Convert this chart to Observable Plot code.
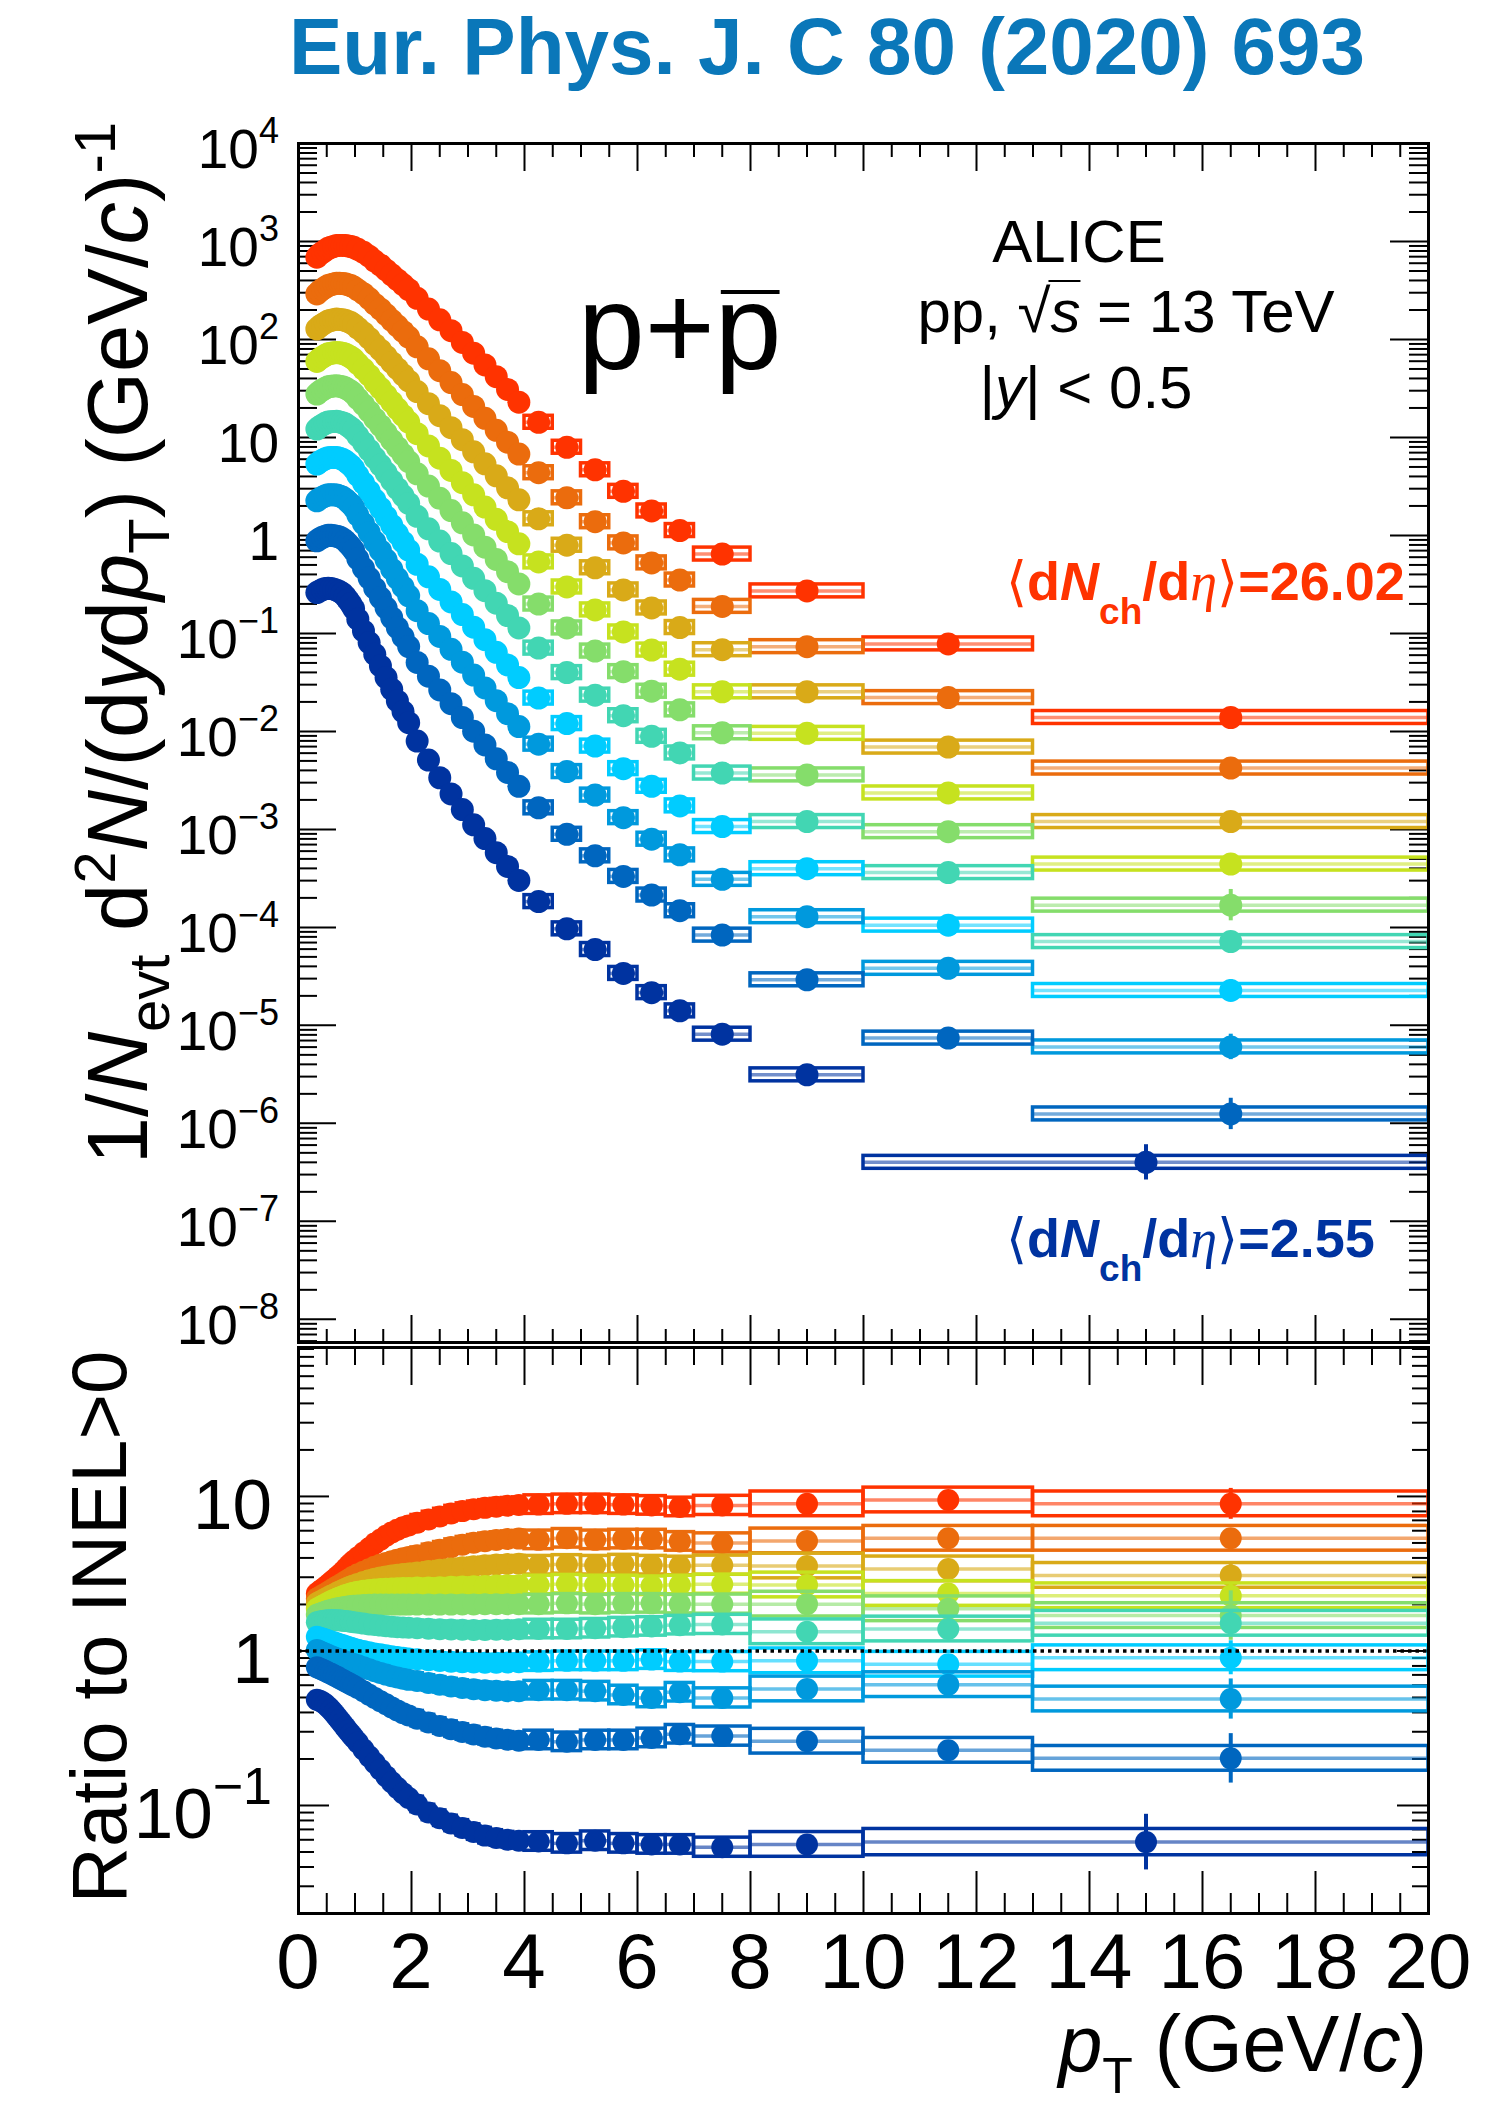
<!DOCTYPE html>
<html>
<head>
<meta charset="utf-8">
<script src="https://cdn.jsdelivr.net/npm/d3@7"></script>
<script src="https://cdn.jsdelivr.net/npm/@observablehq/plot@0.6"></script>
<style>
  html, body { margin: 0; padding: 0; background: #fff; }
  #wrap { position: relative; width: 1496px; height: 2110px; overflow: hidden; background: #fff;
          font-family: "Liberation Sans", Arial, Helvetica, sans-serif; }
  #title { position: absolute; left: 158px; width: 1338px; top: 7px; text-align: center;
           font-weight: bold; font-size: 80px; line-height: 79px; color: #0a77b9; white-space: nowrap; }
  .panel { position: absolute; left: 0; }
  .panel svg { overflow: visible; }
</style>
</head>
<body>
<div id="wrap">
  <div id="title">Eur. Phys. J. C 80 (2020) 693</div>
  <div id="top" class="panel" style="top:0px"></div>
  <div id="bot" class="panel" style="top:1340px"></div>
</div>
<script>
// ---------------- DATA ----------------
// pT bin edges (GeV/c); the lowest multiplicity class has a merged 10-20 bin
const ptEdges = [0.3,0.35,0.4,0.45,0.5,0.55,0.6,0.65,0.7,0.75,0.8,0.85,0.9,0.95,1.0,
  1.1,1.2,1.3,1.4,1.5,1.6,1.7,1.8,1.9,2.0,2.2,2.4,2.6,2.8,3.0,3.2,3.4,3.6,3.8,4.0,
  4.5,5.0,5.5,6.0,6.5,7.0,8.0,10.0,13.0,20.0];
const ptEdgesLowest = [0.3,0.35,0.4,0.45,0.5,0.55,0.6,0.65,0.7,0.75,0.8,0.85,0.9,0.95,1.0,
  1.1,1.2,1.3,1.4,1.5,1.6,1.7,1.8,1.9,2.0,2.2,2.4,2.6,2.8,3.0,3.2,3.4,3.6,3.8,4.0,
  4.5,5.0,5.5,6.0,6.5,7.0,8.0,10.0,20.0];

// multiplicity classes (<dNch/deta>), highest first
const dNdeta = ["26.02","20.02","16.17","13.77","12.04","10.02","7.95","6.32","4.50","2.55"];
const classColors = ["#ff3300","#eb6c0d","#d9aa18","#c6e21f","#85dd6b","#42d6b3","#00ccff","#0099dd","#0066bf","#0033a0"];

// log10 of 1/Nevt d2N/(dy dpT), one array per class
const spec0 = [2.840,2.870,2.890,2.910,2.930,2.940,2.950,2.960,2.960,2.960,2.960,2.955,2.950,2.940,
  2.920,2.890,2.850,2.800,2.760,2.710,2.660,2.610,2.560,2.510,
  2.420,2.310,2.200,2.090,1.970,1.860,1.740,1.620,1.490,1.360,
  1.155,0.900,0.670,0.450,0.250,0.050,-0.190,-0.566,-1.107,-1.858];
const spec1 = [2.465,2.494,2.513,2.532,2.550,2.559,2.567,2.574,2.573,2.571,2.568,2.559,2.550,2.536,
  2.506,2.467,2.418,2.360,2.311,2.254,2.196,2.139,2.082,2.025,
  1.925,1.803,1.682,1.560,1.438,1.317,1.195,1.073,0.952,0.830,
  0.640,0.384,0.140,-0.076,-0.280,-0.455,-0.724,-1.135,-1.655,-2.374];
const spec2 = [2.107,2.134,2.153,2.171,2.188,2.195,2.202,2.208,2.205,2.202,2.196,2.184,2.172,2.154,
  2.117,2.069,2.013,1.949,1.893,1.829,1.766,1.702,1.640,1.577,
  1.468,1.345,1.222,1.100,0.977,0.854,0.731,0.608,0.486,0.363,
  0.170,-0.100,-0.330,-0.556,-0.740,-0.940,-1.166,-1.596,-2.160,-2.920];
const spec3 = [1.776,1.802,1.821,1.838,1.853,1.859,1.864,1.868,1.864,1.859,1.851,1.836,1.821,1.800,
  1.754,1.698,1.635,1.565,1.502,1.432,1.362,1.292,1.225,1.157,
  1.038,0.913,0.788,0.663,0.538,0.414,0.289,0.164,0.039,-0.086,
  -0.270,-0.526,-0.760,-0.985,-1.170,-1.365,-1.596,-2.020,-2.628,-3.354];
const spec4 = [1.443,1.468,1.486,1.503,1.517,1.522,1.526,1.528,1.523,1.517,1.507,1.490,1.472,1.448,
  1.396,1.334,1.266,1.191,1.122,1.047,0.972,0.898,0.826,0.754,
  0.629,0.504,0.379,0.254,0.129,0.005,-0.120,-0.245,-0.370,-0.495,
  -0.700,-0.944,-1.180,-1.390,-1.590,-1.780,-2.014,-2.444,-3.023,-3.773];
const spec5 = [1.086,1.110,1.128,1.144,1.157,1.161,1.163,1.165,1.159,1.151,1.139,1.119,1.099,1.073,
  1.015,0.946,0.872,0.792,0.718,0.639,0.559,0.479,0.404,0.327,
  0.195,0.068,-0.058,-0.185,-0.311,-0.438,-0.564,-0.691,-0.817,-0.944,
  -1.150,-1.400,-1.630,-1.840,-2.050,-2.220,-2.425,-2.920,-3.441,-4.145];
const spec6 = [0.728,0.751,0.768,0.782,0.793,0.796,0.796,0.795,0.788,0.778,0.762,0.739,0.714,0.683,
  0.614,0.535,0.452,0.363,0.280,0.192,0.104,0.016,-0.066,-0.151,
  -0.294,-0.422,-0.551,-0.679,-0.808,-0.936,-1.064,-1.193,-1.321,-1.450,
  -1.660,-1.920,-2.150,-2.380,-2.560,-2.760,-2.971,-3.401,-3.977,-4.644];
const spec7 = [0.353,0.375,0.391,0.404,0.414,0.415,0.414,0.412,0.403,0.392,0.373,0.346,0.319,0.285,
  0.208,0.121,0.030,-0.065,-0.155,-0.249,-0.344,-0.438,-0.525,-0.616,
  -0.768,-0.899,-1.031,-1.162,-1.293,-1.425,-1.556,-1.687,-1.819,-1.950,
  -2.130,-2.410,-2.650,-2.880,-3.100,-3.260,-3.510,-3.891,-4.418,-5.220];
const spec8 = [-0.055,-0.035,-0.019,-0.007,0.001,0.001,-0.002,-0.007,-0.017,-0.030,-0.053,-0.083,-0.114,-0.152,
  -0.239,-0.336,-0.435,-0.538,-0.637,-0.739,-0.840,-0.942,-1.036,-1.134,
  -1.296,-1.436,-1.577,-1.717,-1.858,-1.998,-2.138,-2.279,-2.419,-2.560,
  -2.780,-3.050,-3.270,-3.480,-3.670,-3.830,-4.079,-4.535,-5.130,-5.904];
const spec9 = [-0.583,-0.566,-0.552,-0.542,-0.538,-0.542,-0.549,-0.559,-0.573,-0.590,-0.620,-0.658,-0.698,-0.746,
  -0.855,-0.974,-1.093,-1.213,-1.332,-1.451,-1.570,-1.689,-1.798,-1.911,
  -2.098,-2.293,-2.473,-2.638,-2.798,-2.953,-3.093,-3.238,-3.378,-3.521,
  -3.737,-4.015,-4.226,-4.470,-4.666,-4.852,-5.090,-5.505,-6.398];

// log10 of ratio to INEL>0, one array per class
const ratio0 = [.372,.386,.400,.414,.429,.444,.460,.476,.492,.508,.527,.546,.565,.582,
  .605,.635,.665,.695,.720,.745,.766,.785,.800,.812,
  .830,.851,.870,.889,.905,.917,.926,.934,.940,.944,
  .947,.952,.952,.947,.942,.932,.942,.952,.977,.952];
const ratio1 = [.340,.350,.360,.371,.382,.393,.404,.415,.426,.437,.448,.460,.471,.482,
  .496,.512,.528,.545,.558,.570,.581,.591,.600,.608,
  .620,.638,.655,.672,.688,.700,.710,.718,.724,.727,
  .719,.729,.719,.724,.724,.709,.699,.712,.729,.729];
const ratio2 = [.308,.318,.328,.338,.348,.357,.366,.375,.384,.393,.401,.409,.417,.424,
  .434,.446,.457,.467,.475,.482,.488,.493,.498,.502,
  .508,.517,.525,.533,.541,.548,.554,.559,.563,.565,
  .555,.560,.555,.562,.555,.550,.555,.550,.531,.489];
const ratio3 = [.273,.283,.293,.303,.312,.321,.330,.338,.346,.353,.360,.366,.372,.377,
  .383,.389,.394,.398,.401,.403,.405,.406,.407,.408,
  .410,.411,.413,.415,.417,.419,.421,.423,.425,.426,
  .427,.432,.427,.427,.422,.427,.432,.427,.372,.357];
const ratio4 = [.234,.241,.248,.254,.260,.265,.270,.274,.278,.282,.285,.288,.290,.292,
  .295,.297,.299,.300,.300,.300,.300,.300,.300,.300,
  .300,.300,.300,.300,.301,.301,.302,.302,.303,.303,
  .303,.308,.303,.308,.308,.303,.303,.303,.273,.229];
const ratio5 = [.185,.190,.194,.197,.199,.200,.200,.199,.198,.196,.194,.192,.189,.186,
  .182,.177,.172,.168,.164,.160,.157,.154,.152,.150,
  .147,.144,.141,.139,.137,.136,.136,.137,.138,.140,
  .142,.142,.147,.154,.159,.167,.172,.124,.142,.179];
const ratio6 = [.092,.086,.080,.074,.068,.062,.056,.050,.044,.038,.032,.026,.020,.015,
  .008,.000,-.008,-.016,-.022,-.028,-.034,-.039,-.044,-.048,
  -.054,-.060,-.065,-.070,-.073,-.075,-.076,-.076,-.075,-.073,
  -.069,-.064,-.064,-.064,-.056,-.069,-.069,-.064,-.086,-.044];
const ratio7 = [.006,-.002,-.010,-.018,-.026,-.034,-.041,-.048,-.055,-.062,-.068,-.074,-.080,-.085,
  -.093,-.105,-.118,-.131,-.142,-.153,-.163,-.172,-.180,-.187,
  -.194,-.207,-.219,-.230,-.240,-.248,-.254,-.258,-.260,-.260,
  -.254,-.254,-.260,-.285,-.304,-.267,-.304,-.246,-.218,-.311];
const ratio8 = [-.106,-.113,-.121,-.130,-.139,-.148,-.157,-.166,-.176,-.186,-.196,-.206,-.215,-.225,
  -.240,-.261,-.283,-.305,-.325,-.345,-.366,-.385,-.403,-.418,
  -.438,-.463,-.485,-.506,-.525,-.541,-.555,-.566,-.575,-.581,
  -.576,-.588,-.576,-.576,-.563,-.539,-.551,-.584,-.643,-.695];
const ratio9 = [-.316,-.322,-.332,-.345,-.362,-.381,-.402,-.424,-.447,-.470,-.493,-.516,-.538,-.560,
  -.593,-.638,-.682,-.725,-.768,-.810,-.850,-.886,-.920,-.951,
  -.993,-1.045,-1.082,-1.116,-1.145,-1.172,-1.195,-1.210,-1.221,-1.228,
  -1.233,-1.245,-1.228,-1.245,-1.252,-1.252,-1.270,-1.252,-1.237];

// uncertainties (in decades): systematic box half-heights, statistical error on the last point
const sysSpectraLog10 = 0.066;
const sysRatioLog10 = Array(34).fill(0.05).concat([0.06,0.06,0.06,0.06,0.06,0.06,0.062,0.08,0.08,0.08]);
const sysRatioLog10Lowest = Array(34).fill(0.05).concat([0.06,0.06,0.06,0.06,0.06,0.06,0.062,0.08,0.085]);
const statLastLog10 = [0.10,0.06,0.07,0.08,0.16,0.08,0.11,0.13,0.16,0.18];

// axis ticks / labels
const xTickLabels = [0,2,4,6,8,10,12,14,16,18,20];
const yTopExponents = [4,3,2,1,0,-1,-2,-3,-4,-5,-6,-7,-8];
const yBotExponents = [1,0,-1];

const spectra = [spec0,spec1,spec2,spec3,spec4,spec5,spec6,spec7,spec8,spec9];
const ratios = [ratio0,ratio1,ratio2,ratio3,ratio4,ratio5,ratio6,ratio7,ratio8,ratio9];

// ---------------- BUILD ----------------
const series = spectra.map((L, i) => {
  const edges = i === 9 ? ptEdgesLowest : ptEdges;
  const sys = i === 9 ? sysRatioLog10Lowest : sysRatioLog10;
  const R = ratios[i];
  return L.map((l, j) => ({lo: edges[j], hi: edges[j+1], x: (edges[j] + edges[j+1]) / 2,
                            y: 10 ** l, r: 10 ** R[j], sr: sys[j]}));
});

const W = 1496;
const FONT = "Liberation Sans, Arial, Helvetica, sans-serif";

function minorLog(lo, hi) {
  const out = [];
  for (let k = -10; k <= 4; k++) for (let m = 2; m <= 9; m++) {
    const v = m * 10 ** k; if (v > lo && v < hi) out.push(v);
  }
  return out;
}
const xMajor = xTickLabels;
const xMinor = d3.range(0.5, 20, 0.5).filter(v => Math.abs(v / 2 - Math.round(v / 2)) > 1e-9);

function tickMarks(plotW, plotH, yMajorVals, yMinorVals, L) {
  const s = {stroke: "black", strokeWidth: 2};
  return [
    Plot.tickX(xMajor, {x: d => d, insetBottom: plotH - L.xMajT, ...s}),
    Plot.tickX(xMinor, {x: d => d, insetBottom: plotH - L.xMinT, ...s}),
    Plot.tickX(xMajor, {x: d => d, insetTop: plotH - L.xMajB, ...s}),
    Plot.tickX(xMinor, {x: d => d, insetTop: plotH - L.xMinB, ...s}),
    Plot.tickY(yMajorVals, {y: d => d, insetRight: plotW - L.yMaj, ...s}),
    Plot.tickY(yMinorVals, {y: d => d, insetRight: plotW - L.yMin, ...s}),
    Plot.tickY(yMajorVals, {y: d => d, insetLeft: plotW - L.yMaj, ...s}),
    Plot.tickY(yMinorVals, {y: d => d, insetLeft: plotW - L.yMin, ...s})
  ];
}

// ---- top panel ----
const topH = 1345, topMT = 143, topMB = 3, ML = 298, MR = 68;
const topDomain = [5.8e-9, 1e4];
const topMarks = [];
topMarks.push(...tickMarks(W - ML - MR, topH - topMT - topMB,
  yTopExponents.map(k => 10 ** k), minorLog(topDomain[0], topDomain[1]),
  {xMajT: 28, xMinT: 14, xMajB: 27, xMinB: 13, yMaj: 38, yMin: 19}));
const sf = 10 ** sysSpectraLog10;
series.forEach((rows, i) => {
  const c = classColors[i];
  const last = rows[rows.length - 1];
  const e = 10 ** statLastLog10[i];
  topMarks.push(
    Plot.rect(rows, {x1: "lo", x2: "hi", y1: d => d.y / sf, y2: d => d.y * sf, fill: "none", stroke: c, strokeWidth: 3.5}),
    Plot.ruleY(rows, {x1: "lo", x2: "hi", y: "y", stroke: c, strokeOpacity: 0.55, strokeWidth: 3.5}),
    Plot.ruleX([last], {x: "x", y1: d => d.y / e, y2: d => d.y * e, stroke: c, strokeWidth: 4}),
    Plot.dot(rows, {x: "x", y: "y", r: 11.5, fill: c, stroke: null})
  );
});
topMarks.push(Plot.frame({stroke: "black", strokeWidth: 3}));

const topChart = Plot.plot({
  width: W, height: topH, marginLeft: ML, marginRight: MR, marginTop: topMT, marginBottom: topMB,
  x: {domain: [0, 20], axis: null},
  y: {type: "log", domain: topDomain, axis: null},
  style: {background: "transparent", fontFamily: FONT, overflow: "visible"},
  marks: topMarks
});
document.getElementById("top").appendChild(topChart);

// ---- bottom panel ----
const botH = 770, botMT = 7, botMB = 197;
const botDomain = [0.02, 92];
const botMarks = [];
botMarks.push(...tickMarks(W - ML - MR, botH - botMT - botMB,
  [0.1, 1, 10], minorLog(botDomain[0], botDomain[1]),
  {xMajT: 38, xMinT: 18, xMajB: 42, xMinB: 20, yMaj: 31, yMin: 16}));
series.forEach((rows, i) => {
  const c = classColors[i];
  const last = rows[rows.length - 1];
  const e = 10 ** statLastLog10[i];
  botMarks.push(
    Plot.rect(rows, {x1: "lo", x2: "hi", y1: d => d.r / 10 ** d.sr, y2: d => d.r * 10 ** d.sr, fill: "none", stroke: c, strokeWidth: 3.5}),
    Plot.ruleY(rows, {x1: "lo", x2: "hi", y: "r", stroke: c, strokeOpacity: 0.6, strokeWidth: 3.5}),
    Plot.ruleX([last], {x: "x", y1: d => d.r / e, y2: d => d.r * e, stroke: c, strokeWidth: 4}),
    Plot.dot(rows, {x: "x", y: "r", r: 11, fill: c, stroke: null})
  );
});
botMarks.push(Plot.ruleY([1], {stroke: "black", strokeWidth: 3.5, strokeDasharray: "3.5,4"}));
botMarks.push(Plot.frame({stroke: "black", strokeWidth: 3}));

const botChart = Plot.plot({
  width: W, height: botH, marginLeft: ML, marginRight: MR, marginTop: botMT, marginBottom: botMB,
  x: {domain: [0, 20], axis: null},
  y: {type: "log", domain: botDomain, axis: null},
  style: {background: "transparent", fontFamily: FONT, overflow: "visible"},
  marks: botMarks
});
document.getElementById("bot").appendChild(botChart);

// ---------------- TEXT ----------------
function richText(svg, x, y, parts, opts = {}) {
  const t = svg.append("text").attr("x", x).attr("y", y)
    .attr("font-size", opts.size || 50).attr("fill", opts.fill || "black")
    .attr("text-anchor", opts.anchor || "start").attr("font-family", FONT)
    .attr("font-weight", opts.weight || "normal");
  if (opts.transform) t.attr("transform", opts.transform).attr("x", 0).attr("y", 0);
  parts.forEach(p => {
    const s = t.append("tspan").text(p.t);
    if (p.size) s.attr("font-size", p.size);
    if (p.dy) s.attr("dy", p.dy);
    if (p.italic) s.attr("font-style", "italic");
    if (p.weight) s.attr("font-weight", p.weight);
    if (p.family) s.attr("font-family", p.family);
  });
  return t;
}
function overlineChar(svg, textSel, idx, yLine, width, padL = 0, padR = 0) {
  const box = textSel.node().getExtentOfChar(idx);
  svg.append("line").attr("x1", box.x + padL).attr("x2", box.x + box.width - padR)
    .attr("y1", yLine).attr("y2", yLine).attr("stroke", "black").attr("stroke-width", width);
}

// top panel texts
const st = d3.select(topChart);
const yT = topChart.scale("y");
yTopExponents.forEach(k => {
  const yy = yT.apply(10 ** k) + 25;
  if (k === 0) richText(st, 279, yy, [{t: "1"}], {size: 55, anchor: "end"});
  else if (k === 1) richText(st, 279, yy, [{t: "10"}], {size: 55, anchor: "end"});
  else richText(st, 279, yy, [{t: "10"}, {t: k < 0 ? "\u2212" + (-k) : String(k), size: 36, dy: -25}], {size: 55, anchor: "end"});
});

richText(st, 0, 0, [
  {t: "1/"}, {t: "N", italic: true}, {t: "evt", size: 58, dy: 22},
  {t: " d", dy: -22}, {t: "2", size: 58, dy: -32}, {t: "N", italic: true, dy: 32},
  {t: "/(d"}, {t: "y", italic: true}, {t: "d"}, {t: "p", italic: true},
  {t: "T", size: 58, dy: 22}, {t: ") (GeV/", dy: -22}, {t: "c", italic: true}, {t: ")"},
  {t: "-1", size: 58, dy: -32}
], {size: 85, anchor: "end", transform: "translate(147,122) rotate(-90)"});

richText(st, 1079, 262, [{t: "ALICE"}], {size: 60, anchor: "middle"});
const ppText = richText(st, 1126, 332, [{t: "pp, \u221A"}, {t: "s", italic: true}, {t: " = 13 TeV"}], {size: 60, anchor: "middle"});
overlineChar(st, ppText, 5, 281, 2, -2, 0);
richText(st, 1086, 408, [{t: "|"}, {t: "y", italic: true}, {t: "| < 0.5"}], {size: 60, anchor: "middle"});
const ppbar = richText(st, 578, 369, [{t: "p+p"}], {size: 120});
overlineChar(st, ppbar, 2, 292, 4, 6, 2);

function multLabel(svg, x, y, val, col) {
  richText(svg, x, y, [
    {t: "\u27E8", weight: "normal", family: "DejaVu Sans"},
    {t: "d"}, {t: "N", italic: true}, {t: "ch", size: 37, dy: 24},
    {t: "/d", dy: -24}, {t: "\u03B7", italic: true, weight: "normal", family: "Liberation Serif, serif"},
    {t: "\u27E9", weight: "normal", family: "DejaVu Sans"}, {t: "=" + val}
  ], {size: 54, weight: "bold", fill: col});
}
multLabel(st, 1006, 600, dNdeta[0], classColors[0]);
multLabel(st, 1006, 1257, dNdeta[9], classColors[9]);

// bottom panel texts
const sb = d3.select(botChart);
const yB = botChart.scale("y");
const xB = botChart.scale("x");
yBotExponents.forEach(k => {
  const yy = yB.apply(10 ** k) + 33;
  if (k === 0) richText(sb, 272, yy, [{t: "1"}], {size: 71, anchor: "end"});
  else if (k === 1) richText(sb, 272, yy, [{t: "10"}], {size: 71, anchor: "end"});
  else richText(sb, 272, yy, [{t: "10"}, {t: "\u2212" + (-k), size: 52, dy: -34}], {size: 71, anchor: "end"});
});
xTickLabels.forEach(v => {
  richText(sb, xB.apply(v), 648, [{t: String(v)}], {size: 78, anchor: "middle"});
});
richText(sb, 1427, 731, [
  {t: "p", italic: true}, {t: "T", size: 50, dy: 22}, {t: " (GeV/", dy: -22}, {t: "c", italic: true}, {t: ")"}
], {size: 79, anchor: "end"});
richText(sb, 0, 0, [{t: "Ratio to INEL>0"}], {size: 78, anchor: "middle", transform: "translate(126,287) rotate(-90)"});
</script>
</body>
</html>
